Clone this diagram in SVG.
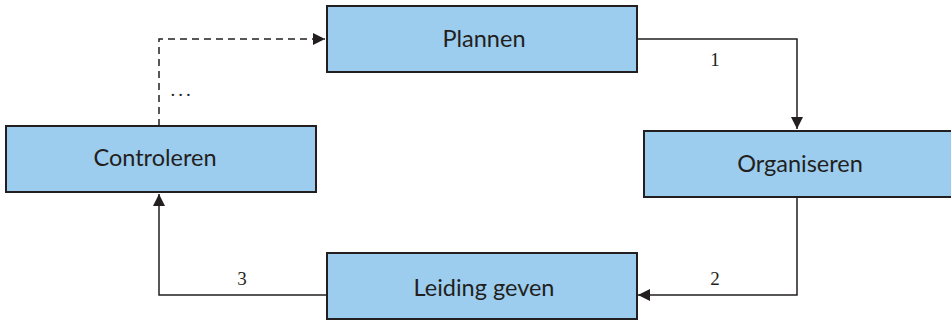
<svg xmlns="http://www.w3.org/2000/svg" width="951" height="321" viewBox="0 0 951 321">
<style>
.box{fill:#9ccdee;stroke:#231f20;stroke-width:2}
.lbl{font-family:Lato,"Open Sans",sans-serif;font-size:23.5px;fill:#231f20;text-anchor:middle}
.num{font-family:"Liberation Serif",serif;font-size:19px;fill:#231f20;text-anchor:middle}
.ln{fill:none;stroke:#231f20;stroke-width:1.5}
.dash{stroke-dasharray:7,5}
</style>
<defs>
<marker id="ah" viewBox="0 0 10 10" refX="10" refY="5" markerWidth="12" markerHeight="12" markerUnits="userSpaceOnUse" orient="auto">
<path d="M0,0 L10,5 L0,10 Z" fill="#231f20"/>
</marker>
</defs>
<g id="connectors">
<path class="ln" d="M637,39 H797 V129" marker-end="url(#ah)"/>
<path class="ln" d="M797,198 V295 H638" marker-end="url(#ah)"/>
<path class="ln" d="M326,295 H159 V194" marker-end="url(#ah)"/>
<path class="ln dash" d="M159,126 V39 H325" marker-end="url(#ah)"/>
<text class="num" x="715" y="66">1</text>
<text class="num" x="715" y="285">2</text>
<text class="num" x="242" y="285">3</text>
<text class="num" x="182" y="96" style="letter-spacing:3px">...</text>
</g>
<g id="plannen">
<rect class="box" x="327" y="6" width="310" height="66"/>
<text class="lbl" x="484" y="47">Plannen</text>
</g>
<g id="organiseren">
<rect class="box" x="644" y="131" width="308" height="66"/>
<text class="lbl" x="800" y="172">Organiseren</text>
</g>
<g id="leiding">
<rect class="box" x="327" y="253" width="310" height="66"/>
<text class="lbl" x="484" y="296">Leiding geven</text>
</g>
<g id="controleren">
<rect class="box" x="6" y="126" width="310" height="66"/>
<text class="lbl" x="155" y="166">Controleren</text>
</g>
</svg>
